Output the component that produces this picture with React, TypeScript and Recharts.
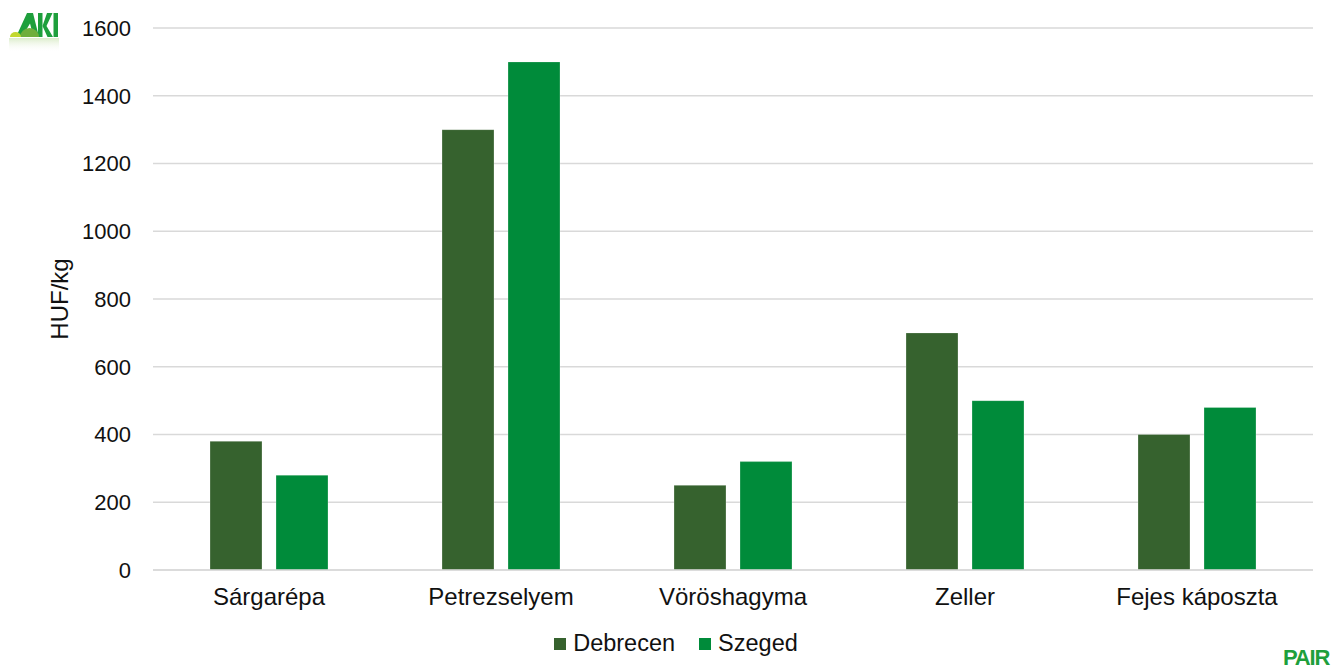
import React from 'react'
import {
  BarChart,
  Bar,
  XAxis,
  YAxis,
  CartesianGrid,
  Legend,
} from 'recharts'

// prices by vegetable, HUF/kg
const categories = ['Sárgarépa', 'Petrezselyem', 'Vöröshagyma', 'Zeller', 'Fejes káposzta']
const debrecen = [380, 1300, 250, 700, 400]
const szeged = [280, 1500, 320, 500, 480]
const yTicks = [0, 200, 400, 600, 800, 1000, 1200, 1400, 1600]

const series = [
  { key: 'Debrecen', color: '#36622E' },
  { key: 'Szeged', color: '#008B3A' },
]

const data = categories.map((name, i) => ({
  name,
  Debrecen: debrecen[i],
  Szeged: szeged[i],
}))

const FONT = 'Arial, "Liberation Sans", sans-serif'
const TEXT = '#111111'
const GRID = '#d9d9d9'
const LOGO_GREEN = '#1E9F3C'

const LegendContent = () => (
  <div
    style={{
      display: 'flex',
      justifyContent: 'center',
      alignItems: 'center',
      fontFamily: FONT,
      fontSize: 23.5,
      color: TEXT,
      paddingLeft: 14,
    }}
  >
    {series.map((s, i) => (
      <div
        key={s.key}
        style={{ display: 'flex', alignItems: 'center', marginRight: i === 0 ? 24 : 0 }}
      >
        <span
          style={{
            display: 'inline-block',
            width: 12,
            height: 12,
            background: s.color,
            marginRight: 7,
          }}
        />
        <span>{s.key}</span>
      </div>
    ))}
  </div>
)

const AkiLogo = () => (
  <svg width={70} height={60} style={{ position: 'absolute', left: 0, top: 0 }}>
    <defs>
      <linearGradient id="fade" x1="0" y1="0" x2="0" y2="1">
        <stop offset="0%" stopColor="#a5d07a" stopOpacity={0.4} />
        <stop offset="100%" stopColor="#ffffff" stopOpacity={0} />
      </linearGradient>
    </defs>
    {/* A */}
    <polygon points="16,37 27,13 33,13 39,37 33.5,37 30,23.5 22,37" fill={LOGO_GREEN} />
    {/* K */}
    <rect x={38} y={13} width={4.5} height={24} fill={LOGO_GREEN} />
    <polygon points="42.5,26 47,13 52.5,13 46.5,26 53,37 47.5,37" fill={LOGO_GREEN} />
    {/* I */}
    <rect x={53.5} y={13} width={4.5} height={24} fill={LOGO_GREEN} />
    {/* hills */}
    <path d="M20,37 A9.5,9 0 0 1 39,37 Z" fill="#6FAE3C" />
    <path d="M10,37 A5.5,5 0 0 1 21,37 Z" fill="#C2D82F" />
    {/* reflection */}
    <rect x={9} y={38} width={50} height={14} fill="url(#fade)" />
  </svg>
)

const PairLogo = () => (
  <div
    style={{
      position: 'absolute',
      left: 1283,
      top: 646,
      fontFamily: FONT,
      fontWeight: 'bold',
      fontSize: 22,
      letterSpacing: -1.2,
      color: LOGO_GREEN,
      lineHeight: '24px',
    }}
  >
    PAIR
  </div>
)

export default function App() {
  return (
    <div style={{ position: 'absolute', left: 0, top: 0, width: 1338, height: 669, background: '#fff' }}>
      <BarChart
        width={1338}
        height={669}
        data={data}
        margin={{ top: 28, right: 25, left: 0, bottom: 0 }}
        barSize={52}
        barGap={14}
      >
        <CartesianGrid vertical={false} stroke={GRID} strokeWidth={1.5} />
        <XAxis
          dataKey="name"
          height={99}
          axisLine={{ stroke: GRID, strokeWidth: 1.5 }}
          tickLine={false}
          tickMargin={12}
          tick={{ fill: TEXT, fontSize: 24, fontFamily: FONT }}
          interval={0}
        />
        <YAxis
          width={153}
          domain={[0, 1600]}
          ticks={yTicks}
          axisLine={false}
          tickLine={false}
          tickMargin={16}
          tick={{ fill: TEXT, fontSize: 22, fontFamily: FONT }}
          label={{
            value: 'HUF/kg',
            angle: -90,
            position: 'center',
            dx: -17,
            fill: TEXT,
            fontSize: 24,
            fontFamily: FONT,
          }}
        />
        <Legend
          verticalAlign="middle"
          content={<LegendContent />}
          wrapperStyle={{ top: 630, left: 0, width: 1338 }}
        />
        {series.map((s) => (
          <Bar
            key={s.key}
            dataKey={s.key}
            fill={s.color}
            stroke="rgba(255,255,255,0.25)"
            strokeWidth={1}
            isAnimationActive={false}
          />
        ))}
      </BarChart>
      <AkiLogo />
      <PairLogo />
    </div>
  )
}
